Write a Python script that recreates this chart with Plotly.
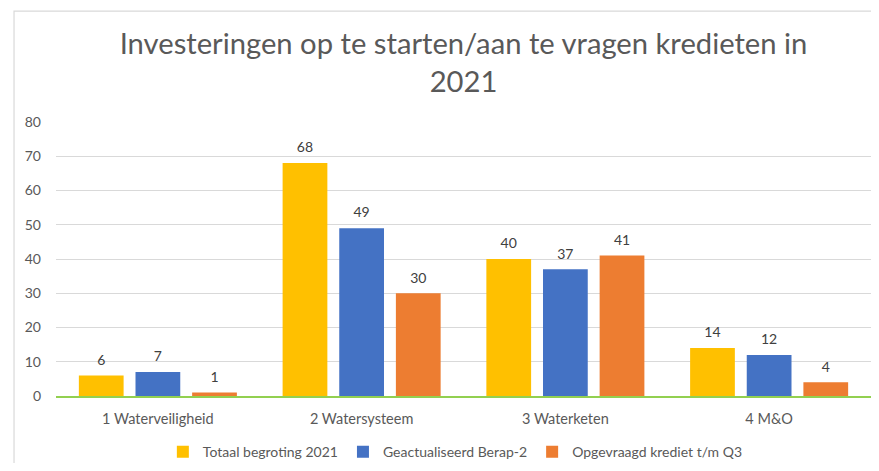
import plotly.graph_objects as go

categories = ["1 Waterveiligheid", "2 Watersysteem", "3 Waterketen", "4 M&O"]
series_names = ["Totaal begroting 2021", "Geactualiseerd Berap-2", "Opgevraagd krediet t/m Q3"]
totaal = [6, 68, 40, 14]
geactualiseerd = [7, 49, 37, 12]
opgevraagd = [1, 30, 41, 4]
colors = ["#FFC000", "#4472C4", "#ED7D31"]
y_ticks = [0, 10, 20, 30, 40, 50, 60, 70, 80]

FONT = "Lato, Carlito, 'Liberation Sans', sans-serif"
BARGAP = 0.166

fig = go.Figure()
for name, vals, col in zip(series_names, [totaal, geactualiseerd, opgevraagd], colors):
    fig.add_trace(go.Bar(
        name=name, x=categories, y=vals, marker=dict(color=col, line=dict(width=0)),
        offsetgroup=name,
    ))
for name, vals in zip(series_names, [totaal, geactualiseerd, opgevraagd]):
    fig.add_trace(go.Scatter(
        x=categories, y=vals, mode="markers+text", text=[str(v) for v in vals],
        textposition="top center", textfont=dict(family=FONT, size=14, color="#404040"),
        marker=dict(size=10, opacity=0), showlegend=False, hoverinfo="skip",
        offsetgroup=name, cliponaxis=False,
    ))

fig.update_layout(
    width=863, height=455,
    barmode="group", bargap=BARGAP, bargroupgap=0.21,
    scattermode="group", scattergap=BARGAP,
    margin=dict(l=48, r=0, t=114, b=67, autoexpand=False),
    paper_bgcolor="white", plot_bgcolor="white",
    font=dict(family=FONT, color="#595959"),
    title=dict(
        text="Investeringen op te starten/aan te vragen kredieten in<br>2021",
        x=0.5, xanchor="center", xref="paper", y=0.898, yanchor="middle",
        font=dict(family=FONT, size=29.2, color="#595959"),
    ),
    legend=dict(
        orientation="h", x=0.49, xanchor="center",
        yref="container", y=0.024, yanchor="middle",
        font=dict(family=FONT, size=14, color="#595959"), itemwidth=30,
        traceorder="normal",
    ),
    xaxis=dict(
        showgrid=False, showline=True, linecolor="#92D050", linewidth=1.5,
        tickfont=dict(family=FONT, size=14.5, color="#595959"), ticks="",
        ticklabelstandoff=9,
    ),
    yaxis=dict(
        range=[0, 80], tickvals=y_ticks, showgrid=True, gridcolor="#D9D9D9",
        gridwidth=1, zeroline=False, showline=False,
        tickfont=dict(family=FONT, size=14, color="#595959"), ticklabelstandoff=14,
    ),
    shapes=[dict(
        type="rect", xref="paper", yref="paper",
        x0=-0.0515, x1=1.2, y0=-0.6, y1=1.405,
        line=dict(color="#D9D9D9", width=1.2), fillcolor="rgba(0,0,0,0)", layer="below",
    )],
)

fig.write_html("out.html")
